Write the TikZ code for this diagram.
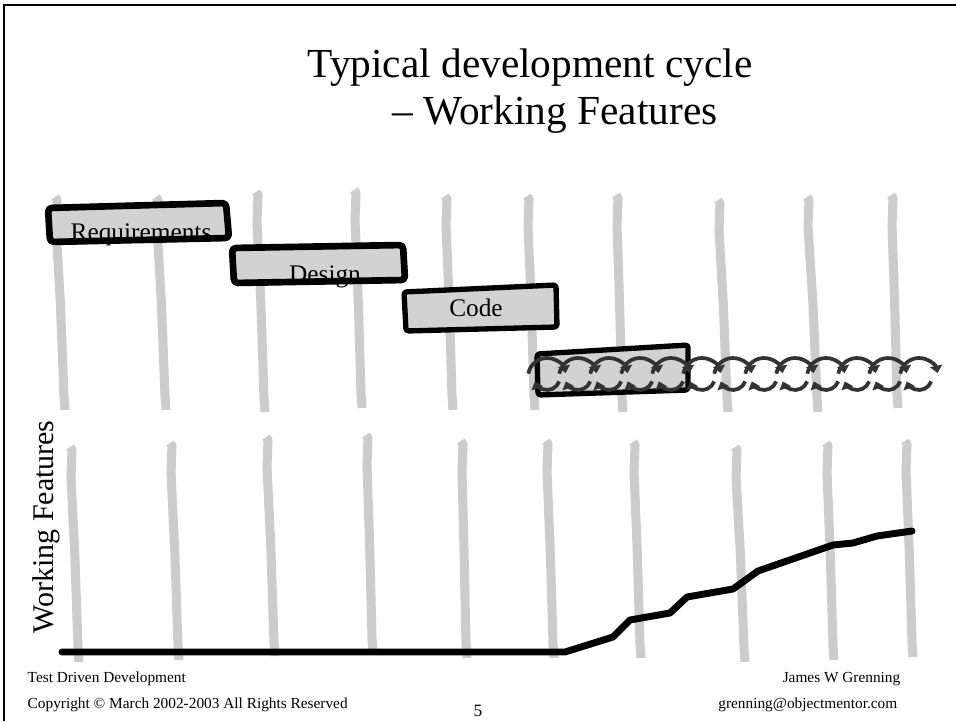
\documentclass[tikz,border=0pt]{standalone}
\usepackage{fontspec}
\setmainfont{Liberation Serif}
\usepackage{tikz}
\usetikzlibrary{arrows.meta, positioning}

\begin{document}
\begin{tikzpicture}[x=0.75pt, y=-0.75pt,
    bar/.style={gray!40, line width=6.8pt, line join=round},
    phase/.style={fill=gray!35, draw=black, line width=4pt, line join=round, rounded corners=2pt},
    edge/.style={draw=black, line width=5pt, line join=round, rounded corners=3pt},
    spin/.style={draw=black!80, line width=2.8pt, -{Triangle[length=5.5pt, width=9pt]}},
    big/.style={font=\fontsize{31}{36}\selectfont},
    label/.style={font=\fontsize{19}{22}\selectfont, anchor=base},
    foot/.style={font=\fontsize{11.5}{13}\selectfont, anchor=base}]
    \useasboundingbox (0,0) rectangle (956,721);
    \draw[line width=1.5pt] (4,721) -- (4,5) -- (956,5);

    \node[big, anchor=base] (title1) at (530,77) {Typical development cycle};
    \node[big, anchor=base] (title2) at (555,124) {-- Working Features};

    \foreach \xt/\yt/\xb/\yb in {55/197/64/410, 156/197/165/410, 256/192/264/412, 354/190/361/408,
        445/196/452/410, 527/196/534/410, 616/195/622/412, 718/200/727/412, 807/197/817/412, 891/195/897/408,
        70/447/78/662, 170/443/178/660, 266/437/274/656, 366/435/372/652, 461/441/466/658,
        546/441/553/658, 633/442/640/658, 735/447/744/662, 826/443/833/660, 905/441/912/657}
        \draw[bar] (\xt,\yt) -- (\xt+2,\yt+3) -- (\xt+1,\yt+30) -- ({\xt+0.6*(\xb-\xt)},{0.5*(\yt+\yb)}) -- (\xb,\yb-14) -- (\xb+1,\yb);

    \draw[phase] (48,208) -- (226,203) -- (229,238) -- (50,242) -- cycle;
    \node[label] (req) at (141,240) {Requirements};
    \draw[edge] (48,208) -- (226,203) -- (229,238) -- (50,242) -- cycle;

    \draw[phase] (232,248) -- (403,245) -- (405,280) -- (234,283) -- cycle;
    \node[label] (design) at (325,282) {Design};
    \draw[edge] (232,248) -- (403,245) -- (405,280) -- (234,283) -- cycle;

    \draw[phase] (404,292) -- (556,285) -- (557,327) -- (406,331) -- cycle;
    \node[label] (code) at (476,316) {Code};

    \draw[phase] (537,354) -- (688,345) -- (688,390) -- (538,395) -- cycle;
    \foreach \i in {0,...,12} {
        \draw[spin] (547+31*\i,377) ++(-170:19) arc (-170:-12:19);
        \draw[spin] (547+31*\i,377) ++(20:13) arc (20:160:13);
    }

    \node[font=\fontsize{22.5}{26}\selectfont, rotate=90, anchor=base] (wf) at (53,527) {Working Features};
    \draw[line width=5.2pt, line join=round, line cap=round] (62,652) -- (565,652) -- (613,637) -- (630,620) -- (670,613)
        -- (687,597) -- (733,589) -- (758,571) -- (833,545) -- (853,543) -- (877,536) -- (912,531);

    \node[foot, anchor=base west] (course) at (23,682) {Test Driven Development};
    \node[foot, anchor=base west] (copy) at (23,708) {Copyright © March 2002-2003 All Rights Reserved};
    \node[foot, font=\fontsize{13}{15}\selectfont] (page) at (478,716) {5};
    \node[foot, anchor=base east] (author) at (905,682) {James W Grenning};
    \node[foot, anchor=base east] (mail) at (902,708) {grenning@objectmentor.com};
\end{tikzpicture}
\end{document}
